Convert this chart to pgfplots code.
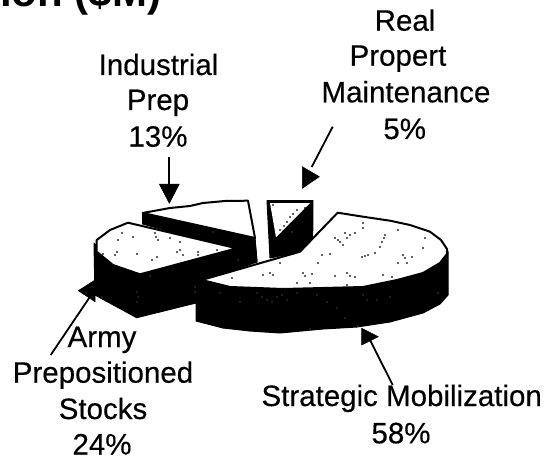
\documentclass[border=0pt]{standalone}
\usepackage{pgfplots}
\pgfplotsset{compat=1.18}
\usepackage{fontspec}
\setmainfont{Liberation Sans}
\newfontfamily\labfont[FakeBold=0.35]{Liberation Sans}

% all coordinates are pixels of the 547x460 reference, y running down
\pgfplotsset{
    face/.style={fill=white, draw=black, line width=2pt, line join=round},
    side/.style={fill=black, draw=black, line width=1pt, line join=round},
    head/.style={fill=black, draw=black, line width=0.5pt},
    stem/.style={draw=black, line width=1.8pt},
    specks/.style={only marks, mark=*, mark size=0.55pt, mark options={draw=none, fill=#1}},
}
\tikzset{lab/.style={anchor=base, inner sep=0pt, font=\labfont\fontsize{29.5}{36}\selectfont}}

\begin{document}
\begin{tikzpicture}
\path[use as bounding box] (0,0) rectangle (547pt,460pt);
\begin{axis}[
    at={(0,0)}, anchor=south west,
    scale only axis,
    width=547pt,
    height=460pt,
    xmin=0, xmax=547,
    ymin=0, ymax=460,
    y dir=reverse,
    hide axis,
    clip=false,
]
% Industrial Prep
\addplot[side] coordinates {(142.7,213) (255,238) (257,262) (236,250) (142.7,224)} --cycle;
\addplot[face] coordinates {(142.7,213) (170,208) (190,206) (203,203) (225,201) (248,200.7) (255,238)} --cycle;

% Real Property Maintenance
\addplot[side] coordinates {(267,200.7) (313,200.7) (312.7,236.7) (300,251.7) (270,258)} --cycle;
\addplot[fill=white, draw=none] coordinates {(270,203) (310,203) (276,237.3)} --cycle;

% Army Prepositioned Stocks
\addplot[side] coordinates {(94,243) (113,265) (140,274.3) (236.7,248.3) (255,240) (257,262) (201,281) (196,285) (196,303) (136.7,317.7) (95,295)} --cycle;
\addplot[face] coordinates {(236.7,248.3) (128,222.7) (110,230) (96.7,240) (96.7,251.7) (113,265) (140,274.3)} --cycle;

% Strategic Mobilization
\addplot[side] coordinates {(196,282) (196,321) (223,328) (250,331) (280,333) (323,329) (357,327) (390,322) (423,313) (440,304) (448,295) (448,251.7) (423,273) (323,288) (230,287) (201.7,280)} --cycle;
\addplot[face] coordinates {(201.7,280) (300,251.7) (337.7,212.7) (363,216.7) (390,220.7) (410,225) (430,231.7) (441,240) (447,249) (447,254)
    (440,263) (423,273) (397,280) (363,287) (323,288) (283,289) (257,288) (230,287)} --cycle;

% print specks on the top faces
\addplot[specks=black] coordinates {
    (345,233) (350,235) (355,233) (335,238) (340,242) (343,245) (363,223) (363,228)
    (385,235) (382,242) (380,247) (398,230) (425,238) (423,248) (322,255) (330,254)
    (318,263) (362,257) (368,255) (375,253) (403,255) (412,257) (398,263) (407,263)
    (263,275) (273,275) (303,273) (312,274) (335,276) (347,273) (355,277) (383,275)
    (392,277) (297,283) (310,283) (347,285) (280,263) (232,278)
    (347,238) (384,238) (338,240) (365,256) (405,258) (270,273) (305,276) (350,276)
    (122,233) (133,237) (155,233) (158,240) (170,238) (180,242) (118,240) (103,254)
    (115,255) (137,254) (157,257) (177,252) (183,255) (198,252) (217,250) (152,260)
    (156,237) (180,250) (198,255) (117,252)
    (290,217) (297,210) (280,230) (273,205) (305,208) (287,222) (293,214) (284,226)
};
% and on the black sides
\addplot[specks=white] coordinates {
    (220,293) (240,302) (257,293) (267,300) (277,297) (287,300) (297,293) (317,295)
    (327,302) (363,295) (377,300) (390,297) (358,326) (345,318) (337,308) (310,329)
    (438,293) (138,297) (195,287) (102,297) (150,276) (238,260) (213,232) (137,302)
    (292,232) (262,297) (272,302) (282,295) (367,300) (195,292) (137,292)
};

% arrows
\addplot[stem] coordinates {(169.3,157) (169.3,186)};
\addplot[head] coordinates {(159.3,184) (179.3,184) (169.3,203.3)} --cycle;
\addplot[stem] coordinates {(332.7,126.7) (311.7,167)};
\addplot[head] coordinates {(302.3,188.3) (302.3,166.7) (319.3,176.7)} --cycle;
\addplot[stem] coordinates {(50.7,355) (90,296.7)};
\addplot[head] coordinates {(78.3,290.7) (95,280) (95,301.7)} --cycle;
\addplot[stem] coordinates {(392.7,385) (370,340)};
\addplot[head] coordinates {(361.7,328.3) (361.7,345) (378.3,336.7)} --cycle;

% title, cut off by the page edge
\node[anchor=base west, inner sep=0pt, font=\fontsize{42}{48}\selectfont\bfseries] at (axis cs:0,6.5) {ion (\$M)};

\node[lab] at (axis cs:158.5,75) {Industrial};
\node[lab] at (axis cs:158,110) {Prep};
\node[lab] at (axis cs:158,146.7) {13\%};

\node[lab] at (axis cs:405,30.7) {Real};
\node[lab] at (axis cs:398,65.7) {Propert};
\node[lab] at (axis cs:406,102.3) {Maintenance};
\node[lab] at (axis cs:404.7,139) {5\%};

\node[lab] at (axis cs:102,347) {Army};
\node[lab] at (axis cs:103,382.7) {Prepositioned};
\node[lab] at (axis cs:103,419) {Stocks};
\node[lab] at (axis cs:102,454.5) {24\%};

\node[lab] at (axis cs:401.7,406) {Strategic Mobilization};
\node[lab] at (axis cs:401,443.3) {58\%};
\end{axis}
\end{tikzpicture}
\end{document}
